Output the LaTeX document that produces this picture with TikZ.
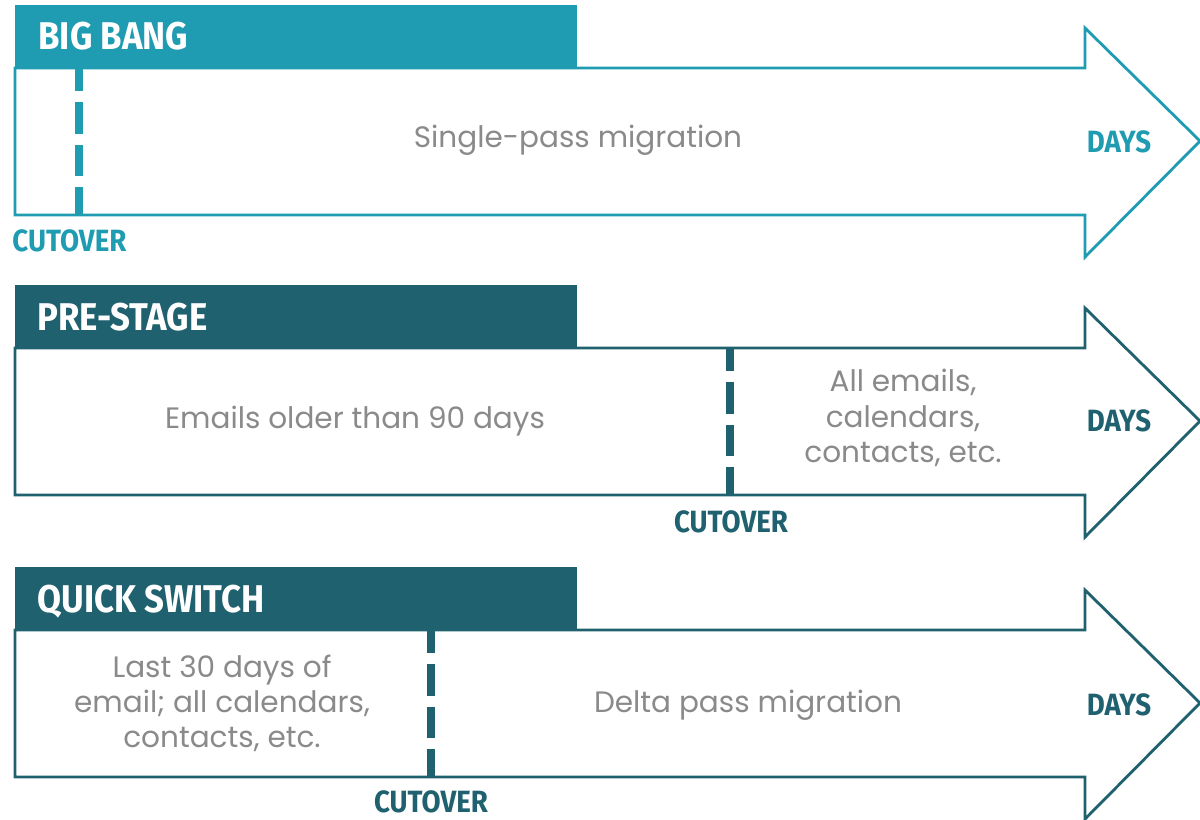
\documentclass[tikz,border=0pt]{standalone}
\usepackage{fontspec}
\setmainfont{Poppins}
\newfontfamily\condfont[FakeStretch=0.9]{Fira Sans}
\definecolor{tealA}{HTML}{1F9CB2}
\definecolor{tealB}{HTML}{20616F}
\definecolor{bodygray}{HTML}{8A8A8A}
\tikzset{
  outline/.style={line width=1.6pt, fill=white, line join=miter},
  header/.style={anchor=west, text=white, font=\condfont\bfseries\fontsize{22}{24}\selectfont, inner sep=0pt},
  cutline/.style={line width=4pt, dash pattern=on 18.1pt off 6.2pt, dash phase=2.3pt},
  cutlabel/.style={font=\condfont\bfseries\fontsize{17.5}{20}\selectfont, inner sep=0pt},
  dayslabel/.style={font=\condfont\bfseries\fontsize{17.5}{20}\selectfont, inner sep=0pt},
  bodytext/.style={text=bodygray, font=\fontsize{16.8}{20}\selectfont, align=center, inner sep=0pt},
}
\begin{document}
\begin{tikzpicture}[x=0.02cm,y=-0.02cm]
\useasboundingbox (0,0) rectangle (1200,819);
\fill[white] (0,0) rectangle (1200,819);

% ---------- BIG BANG ----------
\begin{scope}
\draw[outline, draw=tealA] (15,68) -- (1085,68) -- (1085,28) -- (1200,141) -- (1085,257) -- (1085,215) -- (15,215) -- cycle;
\fill[tealA] (15,5) rectangle (577,68);
\node[header] (h1) at (38,36) {BIG BANG};
\coordinate (c1t) at (79,68);
\coordinate (c1b) at (79,215);
\draw[cutline, draw=tealA] (c1b) -- (c1t);
\node[cutlabel, text=tealA, anchor=west] (cut1) at (12,241) {CUTOVER};
\node[bodytext] (t1) at (578,140) {Single-pass migration};
\node[dayslabel, text=tealA] (d1) at (1119,142) {DAYS};
\end{scope}

% ---------- PRE-STAGE ----------
\begin{scope}[yshift=-280*0.02cm]
\draw[outline, draw=tealB] (15,68) -- (1085,68) -- (1085,28) -- (1200,141) -- (1085,257) -- (1085,215) -- (15,215) -- cycle;
\fill[tealB] (15,5) rectangle (577,68);
\node[header] (h2) at (37,37) {PRE-STAGE};
\coordinate (c2t) at (730,68);
\coordinate (c2b) at (730,215);
\draw[cutline, draw=tealB] (c2b) -- (c2t);
\node[cutlabel, text=tealB] (cut2) at (731,242) {CUTOVER};
\node[bodytext] (t2a) at (355,141) {Emails older than 90 days};
\node[bodytext] (t2b) at (903,138) {All emails,\\ calendars,\\ contacts, etc.};
\node[dayslabel, text=tealB] (d2) at (1119,141) {DAYS};
\end{scope}

% ---------- QUICK SWITCH ----------
\begin{scope}[yshift=-562*0.02cm]
\draw[outline, draw=tealB] (15,68) -- (1085,68) -- (1085,28) -- (1200,141) -- (1085,257) -- (1085,215) -- (15,215) -- cycle;
\fill[tealB] (15,5) rectangle (577,68);
\node[header] (h3) at (37,40) {QUICK SWITCH};
\coordinate (c3t) at (431,68);
\coordinate (c3b) at (431,215);
\draw[cutline, draw=tealB] (c3b) -- (c3t);
\node[cutlabel, text=tealB] (cut3) at (431,240) {CUTOVER};
\node[bodytext] (t3a) at (222,141) {Last 30 days of\\ email; all calendars,\\ contacts, etc.};
\node[bodytext] (t3b) at (748,143) {Delta pass migration};
\node[dayslabel, text=tealB] (d3) at (1119,143) {DAYS};
\end{scope}
\end{tikzpicture}
\end{document}
